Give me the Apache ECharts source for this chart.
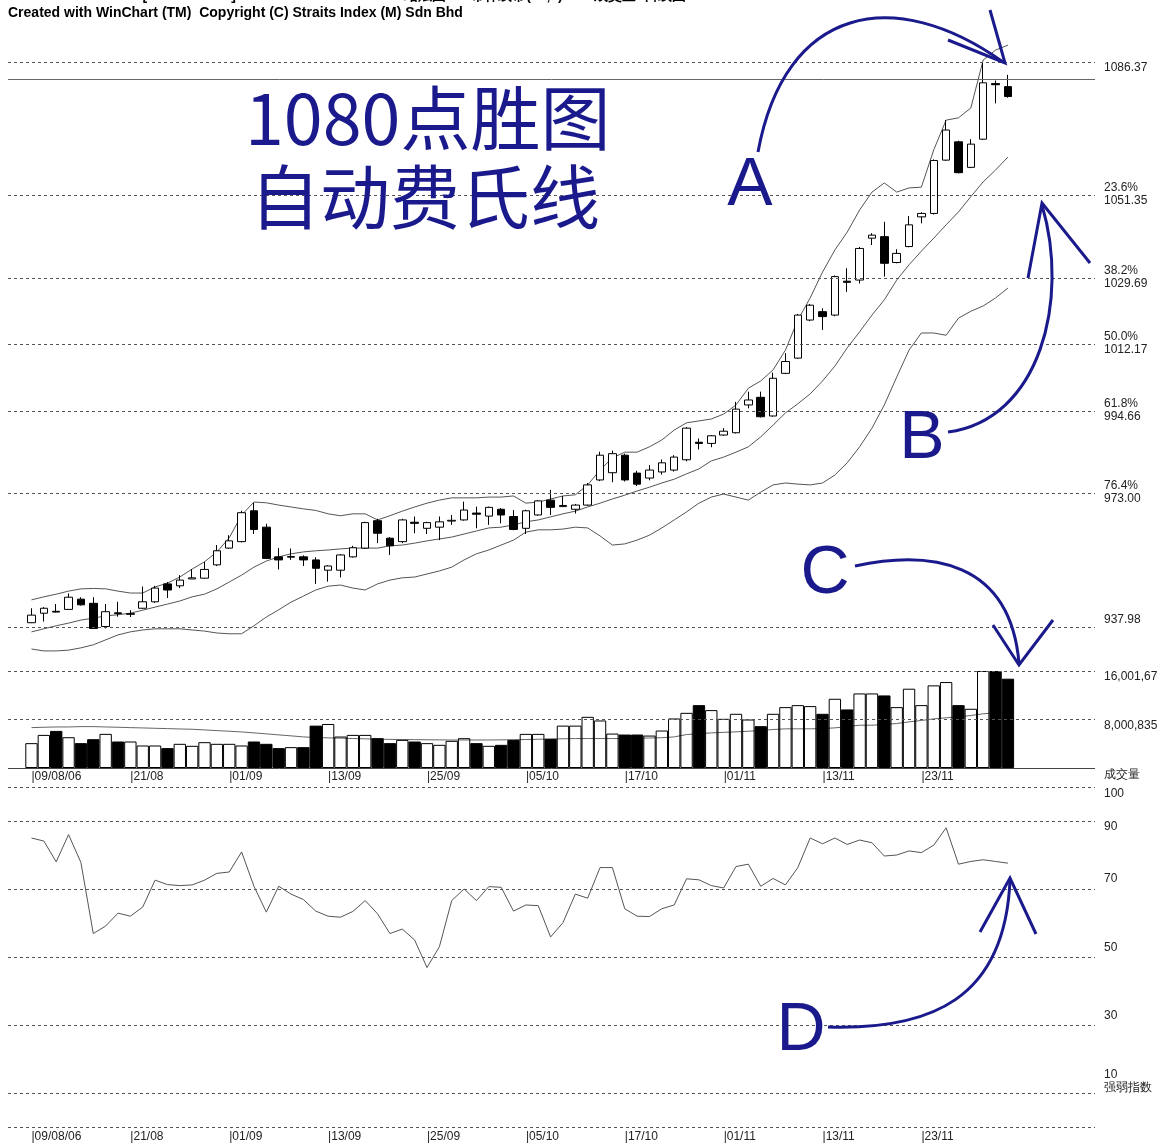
<!DOCTYPE html>
<html><head><meta charset="utf-8">
<script src="https://cdn.jsdelivr.net/npm/echarts@6/dist/echarts.min.js"></script>
<style>html,body{margin:0;padding:0;background:#fff}#c{width:1160px;height:1144px}</style>
</head><body><div id="c"></div>
<script>
// ---------------- DATA ----------------
const dates = ['09/08/06','10/08','11/08','14/08','15/08','16/08','17/08','18/08',
 '21/08','22/08','23/08','24/08','25/08','28/08','29/08','30/08',
 '01/09','04/09','05/09','06/09','07/09','08/09','11/09','12/09',
 '13/09','14/09','15/09','18/09','19/09','20/09','21/09','22/09',
 '25/09','26/09','27/09','28/09','29/09','02/10','03/10','04/10',
 '05/10','06/10','09/10','10/10','11/10','12/10','13/10','16/10',
 '17/10','18/10','19/10','20/10','26/10','27/10','30/10','31/10',
 '01/11','02/11','03/11','06/11','07/11','08/11','09/11','10/11',
 '13/11','14/11','15/11','16/11','17/11','20/11','21/11','22/11',
 '23/11','24/11','27/11','28/11','29/11','30/11','01/12','04/12'];

// [open, close, low, high]
const candles = [
 [939.1,941.1,939.0,942.9],[941.6,942.9,939.4,943.2],[942.1,941.9,941.8,944.0],[942.6,945.8,942.5,946.8],
 [945.3,943.8,943.6,945.8],[944.2,937.6,937.5,945.8],[938.1,942.0,937.6,944.0],[941.7,941.5,940.7,944.6],
 [941.3,941.5,940.6,942.4],[942.9,944.6,942.8,948.6],[944.6,948.2,944.3,948.8],[949.3,947.7,945.6,949.8],
 [948.8,950.3,948.2,951.6],[950.6,950.9,950.6,953.2],[950.8,953.1,950.7,955.1],[954.3,958.0,954.0,959.5],
 [958.7,960.6,958.5,962.1],[960.4,968.0,960.2,968.5],[968.5,963.6,962.4,970.6],[964.2,956.0,955.8,965.1],
 [956.4,955.6,953.1,958.7],[956.3,956.5,955.6,958.6],[956.4,955.6,954.0,956.8],[955.6,953.4,949.3,956.3],
 [952.9,954.0,949.9,954.2],[952.9,956.9,951.0,957.1],[956.4,958.8,956.2,959.3],[958.7,965.4,958.5,965.6],
 [965.9,962.6,960.0,966.4],[961.3,959.3,956.9,961.6],[960.4,966.1,960.0,966.4],[965.5,965.2,962.6,967.0],
 [963.9,965.4,962.4,965.6],[964.2,965.6,960.8,967.0],[965.8,966.0,964.8,967.4],[966.1,968.7,965.9,970.9],
 [967.9,967.6,963.9,969.6],[967.1,969.4,964.8,969.6],[968.9,967.4,965.2,969.2],[967.0,963.6,963.4,968.7],
 [963.9,968.5,962.4,968.8],[967.4,971.1,967.2,971.3],[971.3,969.4,967.4,974.0],[969.6,969.9,969.5,972.4],
 [968.9,970.0,967.8,970.3],[970.0,975.3,969.8,975.8],[976.6,983.1,976.3,984.0],[978.5,983.5,976.0,984.3],
 [983.1,976.6,976.2,983.5],[978.4,975.5,975.0,979.0],[977.1,979.2,976.5,980.5],[978.7,981.1,978.0,982.0],
 [979.2,982.6,978.8,983.1],[981.9,990.2,981.5,990.5],[986.5,986.2,984.6,987.5],[986.2,988.2,985.2,988.4],
 [988.4,989.4,988.2,990.2],[989.0,995.2,988.8,997.1],[996.3,997.6,995.4,999.8],[998.3,993.2,993.0,999.8],
 [993.4,1003.3,993.2,1004.8],[1004.6,1007.7,1004.4,1009.9],[1008.6,1019.9,1008.4,1020.2],[1018.6,1022.5,1018.3,1022.8],
 [1020.8,1019.5,1016.0,1021.7],[1019.9,1030.0,1019.6,1030.3],[1028.8,1028.5,1026.0,1032.2],[1029.1,1037.4,1028.2,1037.8],
 [1040.1,1040.9,1038.3,1041.4],[1040.5,1033.5,1030.0,1044.4],[1033.7,1036.1,1033.5,1037.2],[1037.9,1043.6,1037.7,1045.9],
 [1045.7,1046.6,1044.0,1046.9],[1046.6,1060.5,1046.3,1060.8],[1060.6,1068.5,1060.4,1071.1],[1065.4,1057.3,1057.1,1065.7],
 [1058.7,1064.8,1058.5,1066.1],[1066.1,1080.9,1065.9,1086.37],[1080.7,1080.4,1075.5,1081.5],[1079.9,1077.3,1077.0,1083.0]];

const bandUpper = [945.1,945.9,946.6,947.4,948.0,948.1,948.0,947.4,946.9,946.9,
 948.5,949.5,951.1,953.2,955.1,957.7,961.4,967.4,970.8,970.6,
 970.0,969.5,969.0,968.6,967.7,967.2,967.7,967.7,966.1,967.2,
 968.4,969.5,970.5,971.3,971.9,971.9,971.9,972.1,972.1,972.4,
 970.5,970.8,971.6,972.4,972.7,975.3,979.2,982.4,983.9,983.9,
 985.3,987.1,989.7,991.6,992.1,992.6,993.9,996.3,1000.7,1002.6,
 1005.5,1010.7,1018.6,1024.4,1031.2,1037.0,1041.7,1047.5,1052.2,1054.6,
 1052.2,1053.3,1053.5,1063.3,1071.1,1071.7,1074.3,1086.9,1089.5,1090.8];
const bandMiddle = [936.7,937.5,938.3,939.0,939.8,940.3,940.9,941.2,941.6,942.4,
 943.2,944.0,944.8,945.9,946.6,948.0,949.8,951.6,953.7,955.3,
 956.4,957.2,957.7,958.0,958.2,958.5,958.7,958.7,958.7,959.3,
 959.5,960.0,960.6,961.1,961.6,962.4,963.2,964.0,964.2,964.8,
 965.6,966.1,966.9,967.7,968.4,969.5,970.5,971.6,972.6,973.7,
 974.7,975.8,976.8,978.2,979.5,981.6,982.6,983.9,985.3,987.9,
 991.0,994.2,996.6,999.2,1002.6,1006.5,1011.3,1015.5,1019.9,1023.9,
 1029.1,1033.1,1036.7,1040.1,1043.6,1047.0,1051.0,1054.9,1058.0,1061.4];
const bandLower = [932.2,931.7,931.7,931.9,932.5,933.3,934.6,935.9,936.7,937.2,
 937.5,937.5,937.5,937.2,936.9,936.4,936.2,936.2,938.3,940.6,
 942.5,944.5,946.1,947.7,948.7,949.0,948.2,947.7,949.3,950.3,
 950.9,951.1,951.9,952.7,953.7,955.6,957.2,958.2,959.5,960.8,
 962.9,963.5,963.5,963.7,964.2,964.0,961.9,959.5,959.8,960.8,
 962.1,964.0,966.1,968.2,970.5,972.1,972.9,972.1,971.3,973.4,
 975.3,975.8,975.5,975.3,975.8,977.9,981.1,985.3,990.2,996.3,
 1003.6,1010.7,1015.2,1015.2,1014.6,1019.1,1020.9,1022.3,1024.4,1027.0];

const volume = [4100000,5460000,6120000,5080000,4100000,4750000,5630000,4370000,4370000,3710000,
 3710000,3280000,3990000,3660000,4260000,3990000,3990000,3710000,4370000,3990000,
 3280000,3440000,3440000,6990000,7260000,5190000,5460000,5460000,4920000,4100000,
 4640000,4370000,4100000,3820000,4480000,4920000,4100000,3660000,3820000,4640000,
 5630000,5630000,4810000,6990000,6990000,8440000,7840000,5680000,5520000,5520000,
 5350000,6180000,8170000,9100000,10370000,9550000,8110000,8940000,8000000,6900000,
 8940000,10040000,10370000,10210000,8940000,11420000,9660000,12300000,12300000,11970000,
 10040000,13080000,10370000,13630000,14180000,10370000,9770000,16000000,16000000,14730000];
const volumeAvg = [6660000,6720000,6770000,6770000,6830000,6830000,6770000,6720000,6660000,6610000,
 6550000,6500000,6440000,6390000,6280000,6170000,6060000,5950000,5790000,5630000,
 5460000,5300000,5130000,5020000,4970000,4920000,4860000,4810000,4750000,4720000,
 4700000,4680000,4660000,4640000,4620000,4620000,4620000,4620000,4640000,4660000,
 4700000,4740000,4780000,4820000,4860000,4860000,4860000,4860000,4860000,4900000,
 4950000,5000000,5130000,5520000,5650000,5790000,5880000,5960000,6070000,6180000,
 6350000,6460000,6460000,6460000,6510000,6620000,6840000,7060000,7060000,7170000,
 7340000,7610000,7840000,8110000,8280000,8440000,8660000,8940000,9100000,9270000];

const rsi = [85.0,84.1,78.0,86.0,77.8,56.9,59.1,62.9,62.0,64.7,
 72.6,71.3,71.0,71.2,72.6,74.6,75.0,80.9,70.8,63.2,
 70.8,68.5,66.9,63.5,62.0,61.7,63.4,66.6,62.7,56.9,
 58.2,55.0,46.9,53.0,66.6,70.0,66.6,70.7,70.5,63.5,
 65.3,65.1,55.9,60.1,68.5,67.3,76.3,76.3,64.2,62.0,
 61.9,64.2,65.3,73.0,72.7,71.0,70.3,76.6,77.3,70.8,
 73.1,71.2,76.3,85.0,83.3,85.0,83.1,84.4,83.6,79.7,
 80.0,81.2,80.7,82.9,88.0,77.3,78.1,78.6,78.1,77.6];

const fibLevels = [1086.37, 1051.35, 1029.69, 1012.17, 994.66, 973.00, 937.98];
const fibLabels = ['1086.37', '23.6%\n1051.35', '38.2%\n1029.69', '50.0%\n1012.17', '61.8%\n994.66', '76.4%\n973.00', '937.98'];
const priceRefLine = 1081.9;
const volLevels = [16001670, 8000835, 0];
const volLabels = ['16,001,67', '8,000,835', '成交量'];
const rsiLevels = [100, 90, 70, 50, 30, 10, 0];
const rsiLabels = ['100', '90', '70', '50', '30', '10\n强弱指数', ''];

const titleLine1 = 'COMPOSITE INDEX [COMPOSITE]  03/08/2006 - 04/12/2006  蜡烛图-60 布林线带(16,2)  54  成交量  日线图';
const titleLine2 = 'Created with WinChart (TM)  Copyright (C) Straits Index (M) Sdn Bhd';
const noteLine1 = '1080点胜图';
const noteLine2 = '自动费氏线';
const marks = ['A', 'B', 'C', 'D'];

// ---------------- STYLE / LAYOUT ----------------
const FONT = 'Liberation Sans';
const BLUE = '#1a1a8c';
const LINE = '#555';
const catLeft = 25.3, catWidth = 988.8;
const fullLeft = 8, fullWidth = 1087;
const priceTop = 29.14, priceH = 628.24, priceMin = 930, priceMax = 1095;
const volTop = 671, volH = 97, volMax = 16001670;
const rsiTop = 787, rsiH = 340;
const labelX = 1104;
// vertical label shifts (px, + = down) for the right-hand labels
const fibShift = [6, -1, -1, -1, -1, -1, -7];
const volShift = [6, 6.5, 7];
const rsiShift = [7, 6, -10, -9, -9, -11.5, 0];

function levelLines(levels) {
  return levels.map(v => ({ yAxis: v }));
}
const priceLines = levelLines(fibLevels);
priceLines.push({ yAxis: priceRefLine, lineStyle: { type: 'solid', color: '#666', width: 1 } });
const volLines = levelLines(volLevels);
volLines[2].lineStyle = { type: 'solid', color: '#444', width: 1 };
const rsiLines = levelLines(rsiLevels);

const mlCommon = { silent: true, symbol: ['none', 'none'], animation: false, label: { show: false },
  lineStyle: { type: [3, 3], color: LINE, width: 1 } };

const catAxisLabel = { show: true, interval: 7, align: 'left', color: '#222', fontSize: 12, fontFamily: FONT,
  formatter: (v) => '|' + v };

const grids = [
  { left: catLeft, width: catWidth, top: priceTop, height: priceH },
  { left: catLeft, width: catWidth, top: volTop, height: volH },
  { left: catLeft, width: catWidth, top: rsiTop, height: rsiH },
  { left: fullLeft, width: fullWidth, top: priceTop, height: priceH },
  { left: fullLeft, width: fullWidth, top: volTop, height: volH },
  { left: fullLeft, width: fullWidth, top: rsiTop, height: rsiH }
].map(g => Object.assign({ outerBoundsMode: 'none', containLabel: false }, g));

const hiddenCat = (gi, lbl, margin) => ({ type: 'category', gridIndex: gi, data: dates, boundaryGap: true,
  axisLine: { show: false }, axisTick: { show: false }, splitLine: { show: false },
  axisLabel: lbl ? Object.assign({ margin: margin }, catAxisLabel) : { show: false } });
const hiddenVal = (gi, min, max) => ({ type: 'value', gridIndex: gi, min: min, max: max, show: false, splitLine: { show: false } });

const volData = volume.map((v, i) => ({
  value: v,
  itemStyle: { color: candles[i][1] < candles[i][0] ? '#000' : 'rgba(255,255,255,0)', borderColor: '#000', borderWidth: 1 }
}));

const bandSeries = (d) => ({ type: 'line', xAxisIndex: 0, yAxisIndex: 0, data: d, symbol: 'none', silent: true,
  lineStyle: { color: '#555', width: 1 }, z: 1, animation: false });

// annotations
const txt = (t, x, y, size, family, align) => ({ type: 'text', silent: true, z: 100,
  style: { text: t, x: x, y: y, fill: BLUE, font: size + 'px "' + family + '"', textAlign: align || 'left', textVerticalAlign: 'middle' } });
const curve = (p) => ({ type: 'bezierCurve', silent: true, z: 100,
  shape: { x1: p[0], y1: p[1], cpx1: p[2], cpy1: p[3], cpx2: p[4], cpy2: p[5], x2: p[6], y2: p[7] },
  style: { stroke: BLUE, lineWidth: 3, fill: null } });
const head = (pts) => ({ type: 'polyline', silent: true, z: 100, shape: { points: pts },
  style: { stroke: BLUE, lineWidth: 3, fill: null } });

const graphics = [
  { type: 'text', silent: true, style: { text: titleLine1, x: 8, y: -4, fill: '#000', font: 'bold 14px "' + FONT + '"', textVerticalAlign: 'middle' } },
  { type: 'text', silent: true, style: { text: titleLine2, x: 8, y: 13, fill: '#000', font: 'bold 14px "' + FONT + '"', textVerticalAlign: 'middle' } },
  txt(noteLine1, 245, 118, 70, 'Noto Sans CJK SC'),
  txt(noteLine2, 250, 197, 70, 'Noto Sans CJK SC'),
  txt(marks[0], 750, 186, 68, FONT, 'center'),
  txt(marks[1], 922, 439, 68, FONT, 'center'),
  txt(marks[2], 825, 574, 68, FONT, 'center'),
  txt(marks[3], 801, 1031, 68, FONT, 'center'),
  curve([758, 152, 785, 5, 895, -15, 1003, 62]),
  head([[948, 40], [1005, 63], [990, 10]]),
  curve([948, 432, 1040, 420, 1070, 300, 1042, 205]),
  head([[1028, 278], [1042, 203], [1090, 263]]),
  curve([855, 566, 930, 550, 1010, 560, 1019, 663]),
  head([[993, 625], [1019, 665], [1053, 620]]),
  curve([828, 1027, 930, 1030, 1005, 1000, 1010, 880]),
  head([[980, 932], [1010, 878], [1036, 934]])
];

const option = {
  backgroundColor: '#fff',
  animation: false,
  grid: grids,
  xAxis: [hiddenCat(0, false), hiddenCat(1, true, 3), hiddenCat(2, true, 4),
    hiddenVal(3, 0, 1), hiddenVal(4, 0, 1), hiddenVal(5, 0, 1)],
  yAxis: [hiddenVal(0, priceMin, priceMax), hiddenVal(1, 0, volMax), hiddenVal(2, 0, 100),
    hiddenVal(3, priceMin, priceMax), hiddenVal(4, 0, volMax), hiddenVal(5, 0, 100)],
  series: [
    { type: 'line', xAxisIndex: 3, yAxisIndex: 3, data: [], markLine: Object.assign({ data: priceLines }, mlCommon) },
    { type: 'line', xAxisIndex: 4, yAxisIndex: 4, data: [], markLine: Object.assign({ data: volLines }, mlCommon) },
    { type: 'line', xAxisIndex: 5, yAxisIndex: 5, data: [], markLine: Object.assign({ data: rsiLines }, mlCommon) },
    bandSeries(bandUpper), bandSeries(bandMiddle), bandSeries(bandLower),
    { type: 'candlestick', xAxisIndex: 0, yAxisIndex: 0, data: candles, barWidth: 8, z: 3, silent: true,
      itemStyle: { color: '#fff', color0: '#000', borderColor: '#000', borderColor0: '#000', borderWidth: 1 } },
    { type: 'line', xAxisIndex: 1, yAxisIndex: 1, data: volumeAvg, symbol: 'none', silent: true, z: 1,
      lineStyle: { color: '#666', width: 1 } },
    { type: 'bar', xAxisIndex: 1, yAxisIndex: 1, data: volData, barCategoryGap: '0%', barWidth: '100%', z: 2, silent: true },
    { type: 'line', xAxisIndex: 2, yAxisIndex: 2, data: rsi, symbol: 'none', silent: true,
      lineStyle: { color: '#555', width: 1 } }
  ]
};

const chart = echarts.init(document.getElementById('c'), null, { renderer: 'canvas', width: 1160, height: 1144 });
chart.setOption(option);

// right-hand level labels, positioned through the overlay axes
function levelLabels(axisIdx, levels, labels, shifts) {
  const out = [];
  levels.forEach((v, i) => {
    if (!labels[i]) return;
    const y = chart.convertToPixel({ yAxisIndex: axisIdx }, v) + shifts[i];
    out.push({ type: 'text', silent: true, z: 50,
      style: { text: labels[i], x: labelX, y: y, fill: '#222', font: '12px "' + FONT + '"',
        lineHeight: 13, textAlign: 'left', textVerticalAlign: 'middle' } });
  });
  return out;
}
const labelGraphics = [].concat(
  levelLabels(3, fibLevels, fibLabels, fibShift),
  levelLabels(4, volLevels, volLabels, volShift),
  levelLabels(5, rsiLevels, rsiLabels, rsiShift));
chart.setOption({ graphic: { elements: graphics.concat(labelGraphics) } });
</script>
</body></html>
